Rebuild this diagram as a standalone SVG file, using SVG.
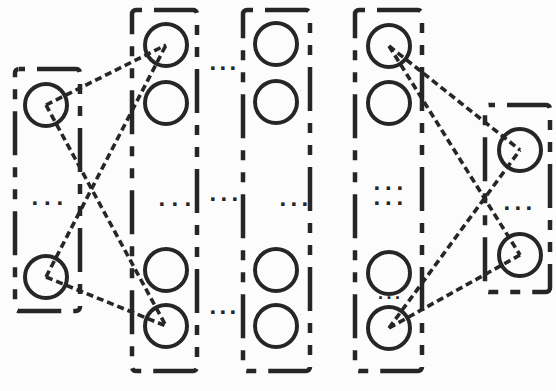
<svg xmlns="http://www.w3.org/2000/svg" width="556" height="391" viewBox="0 0 556 391">
<style>
.box{fill:none;stroke:#262626;stroke-width:4.5;stroke-dasharray:44 12 10 12 10 12;stroke-dashoffset:82}
.n{fill:none;stroke:#262626;stroke-width:4}
.c{stroke:#262626;stroke-width:3.6;stroke-dasharray:7 4;fill:none}
.d{font-family:"Liberation Sans",Arial,sans-serif;font-size:24px;font-weight:bold;fill:#262626}
</style>
<rect width="556" height="391" fill="#fcfcfd"/>
<g id="connectors">
<line class="c" x1="46" y1="105" x2="166" y2="45"/>
<line class="c" x1="46" y1="105" x2="166" y2="326"/>
<line class="c" x1="46" y1="277" x2="166" y2="45"/>
<line class="c" x1="46" y1="277" x2="166" y2="326"/>
<line class="c" x1="389" y1="46" x2="520" y2="150"/>
<line class="c" x1="389" y1="46" x2="520" y2="255"/>
<line class="c" x1="389" y1="328" x2="520" y2="150"/>
<line class="c" x1="389" y1="328" x2="520" y2="255"/>
</g>
<g id="layer-input">
<rect class="box" x="15" y="69" width="65" height="242" rx="4"/>
<circle class="n" cx="46" cy="105" r="21"/>
<circle class="n" cx="46" cy="277" r="21"/>
<text class="d" x="31.6" y="205" letter-spacing="5.8">...</text>
</g>
<g id="layer-hidden-1">
<rect class="box" x="132" y="10" width="65" height="361" rx="4"/>
<circle class="n" cx="166" cy="45" r="21"/>
<circle class="n" cx="166" cy="103" r="21"/>
<circle class="n" cx="166" cy="270" r="21"/>
<circle class="n" cx="166" cy="326" r="21"/>
<text class="d" x="158.6" y="206" letter-spacing="6.3">...</text>
</g>
<g id="gap-dots">
<text class="d" x="209.6" y="70" letter-spacing="3.3">...</text>
<text class="d" x="209.6" y="201" letter-spacing="4.3">...</text>
<text class="d" x="209.6" y="314" letter-spacing="3.3">...</text>
</g>
<g id="layer-hidden-2">
<rect class="box" x="243" y="10" width="67" height="361" rx="4"/>
<circle class="n" cx="276" cy="44" r="21"/>
<circle class="n" cx="276" cy="102" r="21"/>
<circle class="n" cx="276" cy="270" r="21"/>
<circle class="n" cx="276" cy="326" r="21"/>
<text class="d" x="279.6" y="206" letter-spacing="4.3">...</text>
</g>
<g id="layer-hidden-n">
<rect class="box" x="355" y="10" width="67" height="361" rx="4"/>
<circle class="n" cx="389" cy="46" r="21"/>
<circle class="n" cx="389" cy="103" r="21"/>
<circle class="n" cx="389" cy="273" r="21"/>
<circle class="n" cx="389" cy="328" r="21"/>
<text class="d" letter-spacing="4.8"><tspan x="373.6" y="190">...</tspan><tspan x="373.6" y="205">...</tspan></text>
<text class="d" x="378" y="299" letter-spacing="3.5" style="font-size:18px">...</text>
</g>
<g id="layer-output">
<rect class="box" x="485" y="105" width="65" height="187" rx="4"/>
<circle class="n" cx="520" cy="150" r="21"/>
<circle class="n" cx="520" cy="255" r="21"/>
<text class="d" x="503.6" y="210" letter-spacing="4.3">...</text>
</g>
</svg>
